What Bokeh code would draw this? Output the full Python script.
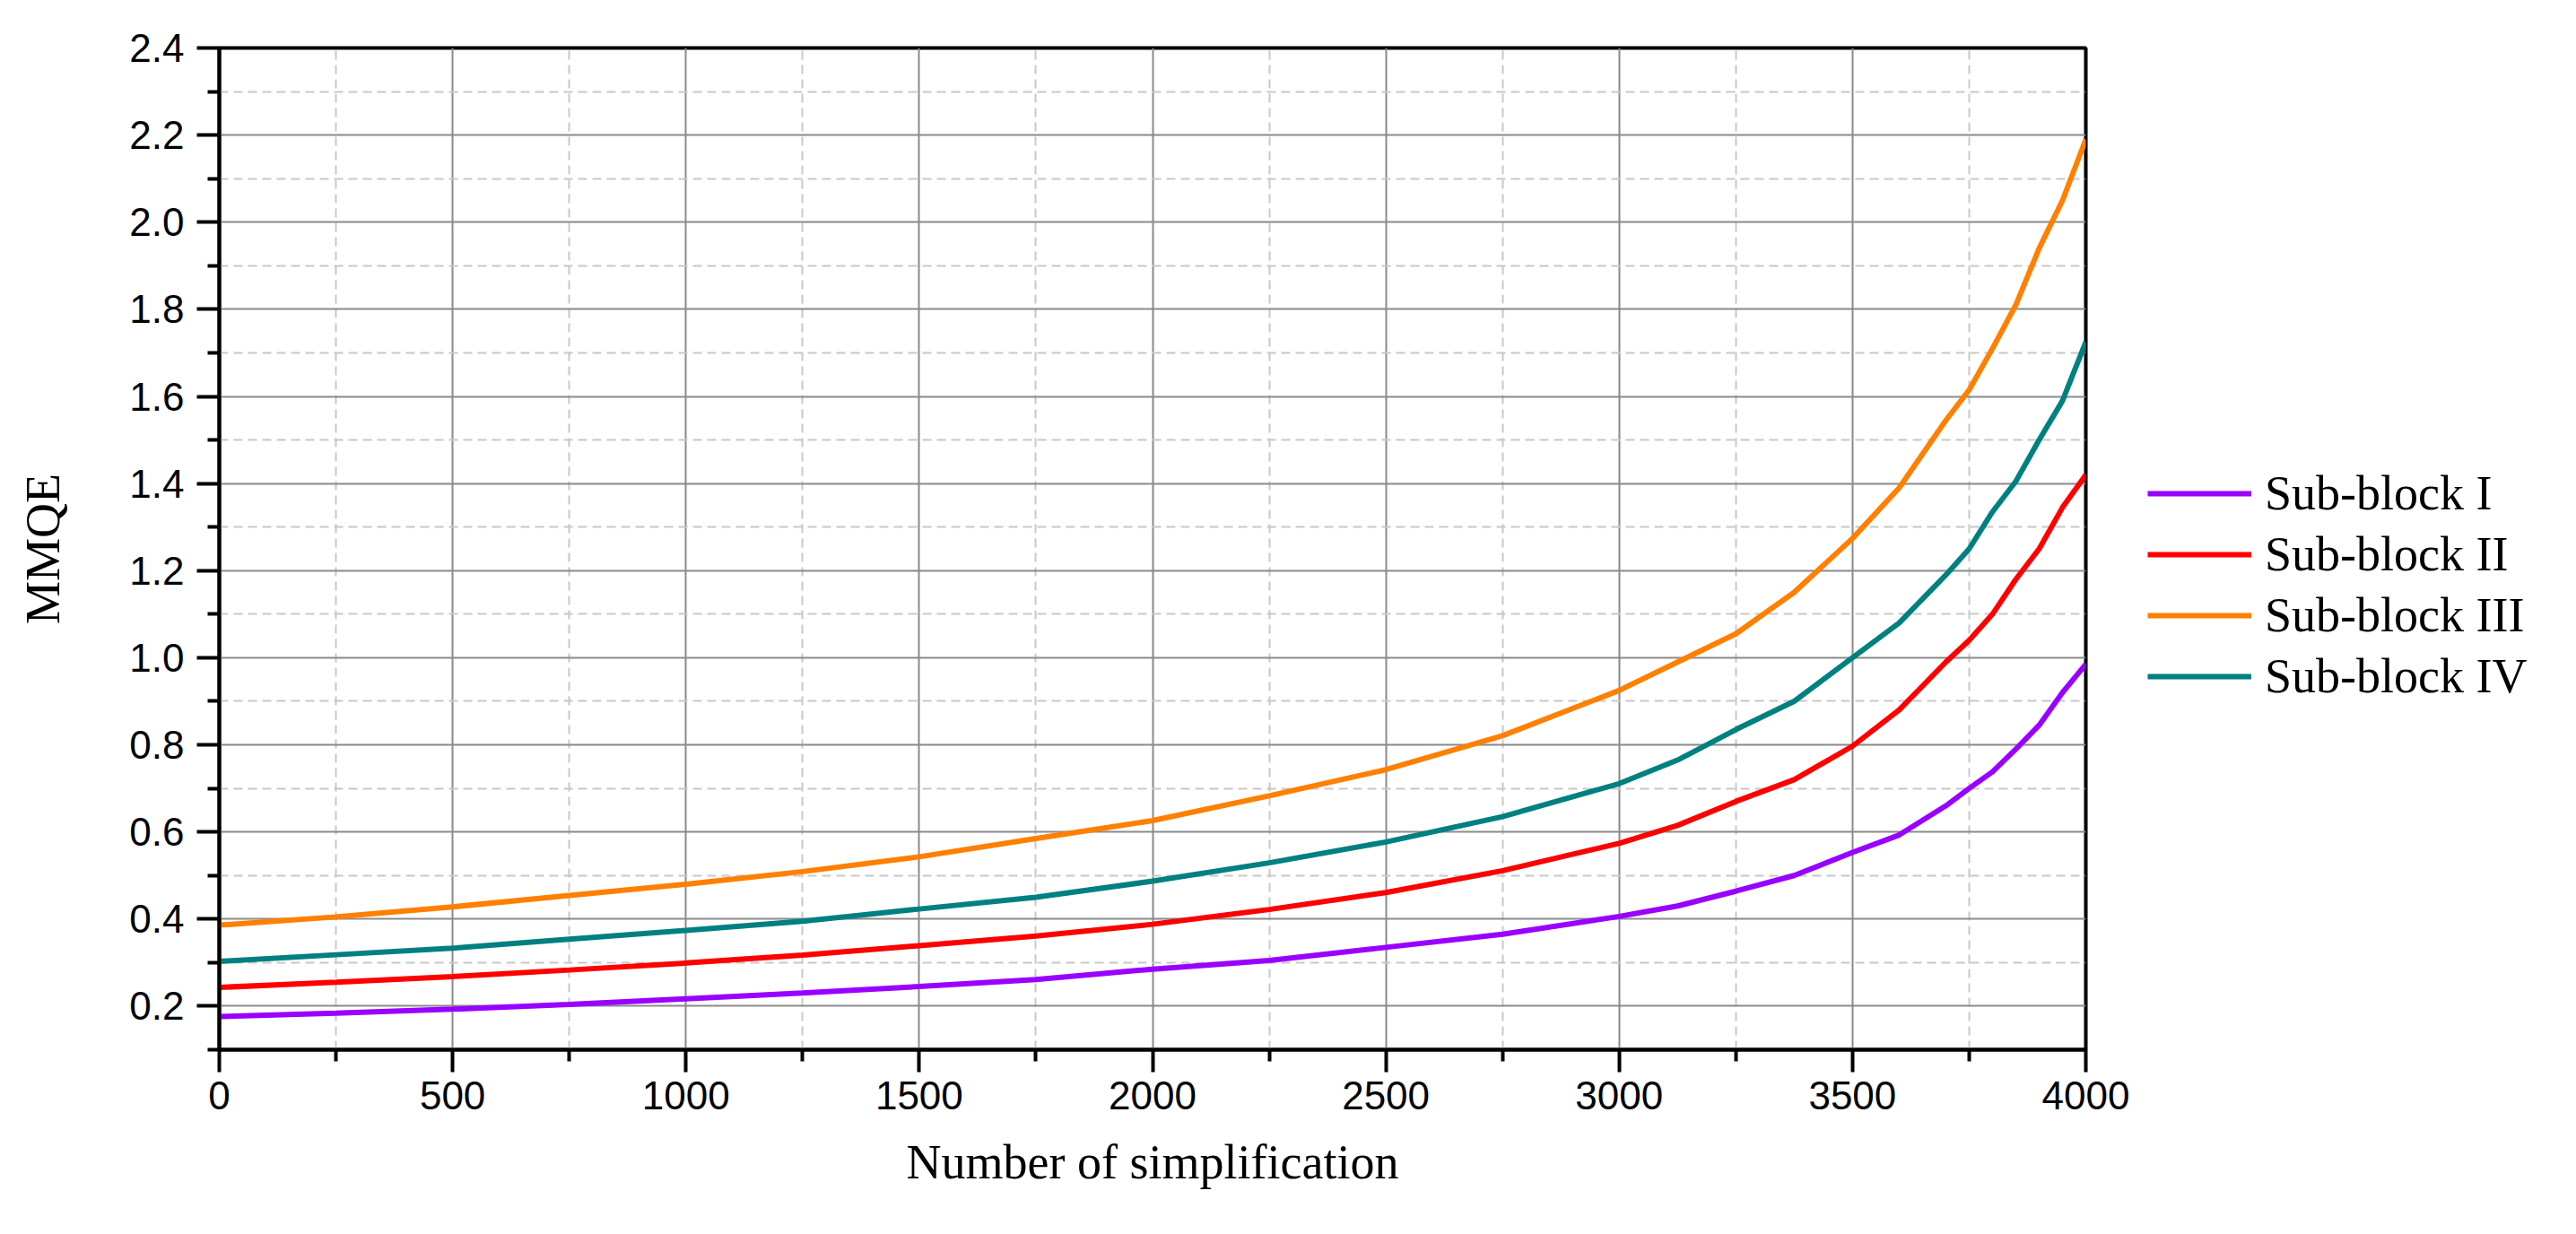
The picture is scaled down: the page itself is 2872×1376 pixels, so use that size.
from bokeh.plotting import figure
from bokeh.layouts import row
from bokeh.models import Range1d, FixedTicker, Legend, LegendItem, PrintfTickFormatter
from bokeh.embed import file_html
from bokeh.resources import INLINE

# ---- data ----
x_vals = [0, 250, 500, 750, 1000, 1250, 1500, 1750, 2000, 2250, 2500, 2750,
          3000, 3125, 3250, 3375, 3500, 3600, 3700, 3750, 3800, 3850, 3900, 3950, 4000]

sub_block_1 = [0.176, 0.184, 0.193, 0.204, 0.217, 0.230, 0.245, 0.261, 0.285, 0.305, 0.335, 0.365,
               0.406, 0.430, 0.464, 0.500, 0.553, 0.593, 0.660, 0.700, 0.738, 0.790, 0.845, 0.920, 0.985]
sub_block_2 = [0.243, 0.255, 0.268, 0.283, 0.299, 0.317, 0.339, 0.361, 0.388, 0.422, 0.461, 0.511,
               0.574, 0.615, 0.670, 0.720, 0.797, 0.880, 0.990, 1.040, 1.100, 1.180, 1.250, 1.345, 1.420]
sub_block_3 = [0.386, 0.405, 0.428, 0.454, 0.480, 0.509, 0.543, 0.585, 0.626, 0.683, 0.743, 0.821,
               0.925, 0.990, 1.055, 1.150, 1.274, 1.390, 1.545, 1.615, 1.710, 1.810, 1.940, 2.050, 2.190]
sub_block_4 = [0.303, 0.318, 0.333, 0.354, 0.374, 0.395, 0.423, 0.450, 0.487, 0.529, 0.577, 0.635,
               0.711, 0.765, 0.835, 0.900, 1.000, 1.080, 1.190, 1.250, 1.335, 1.405, 1.500, 1.590, 1.725]

series_names = ["Sub-block I", "Sub-block II", "Sub-block III", "Sub-block IV"]
series_colors = ["#9900ff", "#ff0000", "#ff8000", "#008080"]
series_values = [sub_block_1, sub_block_2, sub_block_3, sub_block_4]

x_major_ticks = [0, 500, 1000, 1500, 2000, 2500, 3000, 3500, 4000]
x_minor_ticks = [250, 750, 1250, 1750, 2250, 2750, 3250, 3750]
y_major_ticks = [0.2, 0.4, 0.6, 0.8, 1.0, 1.2, 1.4, 1.6, 1.8, 2.0, 2.2, 2.4]
y_minor_ticks = [0.1, 0.3, 0.5, 0.7, 0.9, 1.1, 1.3, 1.5, 1.7, 1.9, 2.1, 2.3]

x_title = "Number of simplification"
y_title = "MMQE"

# ---- main chart ----
p = figure(width=2385, height=1360, output_backend="svg", toolbar_location=None,
           x_range=Range1d(0, 4000), y_range=Range1d(0.1, 2.4))
p.min_border_left = 244
p.min_border_right = 60
p.min_border_top = 53
p.min_border_bottom = 190
p.background_fill_color = "white"
p.border_fill_color = "white"
p.outline_line_color = "black"
p.outline_line_width = 4

p.xaxis.ticker = FixedTicker(ticks=x_major_ticks, minor_ticks=x_minor_ticks)
p.yaxis.ticker = FixedTicker(ticks=y_major_ticks, minor_ticks=y_minor_ticks)
p.xgrid.ticker = p.xaxis.ticker
p.ygrid.ticker = p.yaxis.ticker
p.yaxis.formatter = PrintfTickFormatter(format="%.1f")

for ax in (p.xaxis, p.yaxis):
    ax.axis_line_color = "black"
    ax.axis_line_width = 4
    ax.major_tick_line_color = "black"
    ax.major_tick_line_width = 4
    ax.minor_tick_line_color = "black"
    ax.minor_tick_line_width = 4
    ax.major_tick_in = 0
    ax.major_tick_out = 25
    ax.minor_tick_in = 0
    ax.minor_tick_out = 13
    ax.major_label_text_font = "Liberation Sans"
    ax.major_label_text_font_size = "44px"
    ax.major_label_text_color = "black"
    ax.axis_label_text_font = "Liberation Serif"
    ax.axis_label_text_font_size = "54px"
    ax.axis_label_text_font_style = "normal"
    ax.axis_label_text_color = "black"

p.xaxis.axis_label = x_title
p.yaxis.axis_label = y_title
p.xaxis.major_label_standoff = 10
p.yaxis.major_label_standoff = 14
p.xaxis.axis_label_standoff = 26
p.yaxis.axis_label_standoff = 63

for g in (p.xgrid, p.ygrid):
    g.grid_line_color = "#8a8a8a"
    g.grid_line_width = 2
    g.minor_grid_line_color = "#c8c8c8"
    g.minor_grid_line_width = 2
    g.minor_grid_line_dash = "10 6"

for color, vals in zip(series_colors, series_values):
    p.line(x_vals, vals, line_color=color, line_width=6)

# ---- legend panel (to the right of the chart) ----
lg = figure(width=471, height=1360, output_backend="svg", toolbar_location=None,
            x_range=Range1d(0, 4000), y_range=Range1d(0.1, 2.4),
            x_axis_type=None, y_axis_type=None)
lg.min_border_left = 0
lg.min_border_right = 0
lg.min_border_top = 0
lg.min_border_bottom = 0
lg.outline_line_color = None
lg.xgrid.visible = False
lg.ygrid.visible = False
lg.background_fill_color = "white"
lg.border_fill_color = "white"

items = []
for name, color, vals in zip(series_names, series_colors, series_values):
    r = lg.line(x_vals, vals, line_color=color, line_width=6, visible=False)
    items.append(LegendItem(label=name, renderers=[r]))

legend = Legend(items=items, location=(9, 385))
legend.glyph_width = 116
legend.glyph_height = 60
legend.label_height = 60
legend.label_standoff = 15
legend.spacing = 6
legend.padding = 0
legend.margin = 0
legend.border_line_alpha = 0
legend.background_fill_alpha = 0
legend.inactive_fill_alpha = 0
legend.label_text_font = "Liberation Serif"
legend.label_text_font_size = "54px"
legend.label_text_color = "black"
lg.add_layout(legend, "center")

layout = row(p, lg)
open("out.html", "w").write(file_html(layout, INLINE))
